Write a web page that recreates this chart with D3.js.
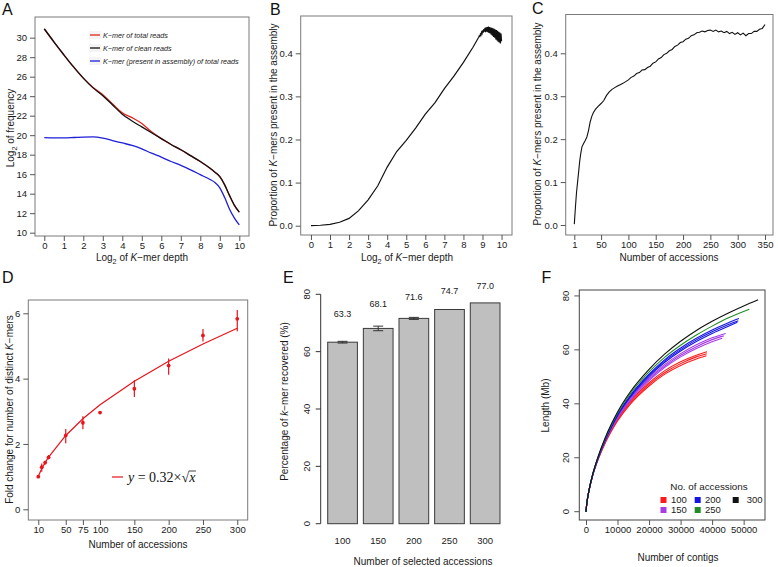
<!DOCTYPE html>
<html>
<head>
<meta charset="utf-8">
<script src="https://cdn.jsdelivr.net/npm/d3@7"></script>
<style>
  body { margin: 0; background: #fff; }
  svg { display: block; font-family: "Liberation Sans", Arial, sans-serif; }
</style>
</head>
<body>
<script>
// ---- A: log2 frequency vs log2 depth
const depthA = [0, 0.5, 1, 1.5, 2, 2.5, 3, 3.5, 4, 4.5, 5, 5.5, 6, 6.5, 7, 7.5, 8, 8.5, 8.75, 9, 9.25, 9.5, 9.75, 10];
const freqTotal = [30.9, 29.55, 28.25, 27.0, 25.85, 24.9, 24.15, 23.2, 22.3, 21.8, 21.2, 20.35, 19.65, 19.05, 18.5, 17.9, 17.3, 16.6, 16.2, 15.75, 14.9, 13.8, 12.8, 12.1];
const freqClean = [30.9, 29.55, 28.25, 27.0, 25.85, 24.85, 24.05, 23.1, 22.15, 21.45, 20.85, 20.25, 19.65, 19.05, 18.5, 17.9, 17.3, 16.6, 16.2, 15.75, 14.9, 13.8, 12.8, 12.1];
const freqAssembly = [19.75, 19.73, 19.73, 19.76, 19.8, 19.82, 19.7, 19.45, 19.2, 18.95, 18.6, 18.15, 17.75, 17.3, 16.9, 16.45, 15.95, 15.45, 15.15, 14.6, 13.6, 12.4, 11.5, 10.8];
const legendA = ['of total reads', 'of clean reads', '(present in assembly) of total reads'];

// ---- B: proportion present vs log2 depth
const depthB = [0, 0.5, 1, 1.5, 2, 2.5, 3, 3.5, 4, 4.5, 5, 5.5, 6, 6.5, 7, 7.5, 8, 8.5,
  8.8, 8.83, 8.86, 8.89, 8.92, 8.95, 8.98, 9.01, 9.04, 9.07, 9.1, 9.13, 9.16, 9.19, 9.22, 9.25, 9.28, 9.31, 9.34, 9.37,
  9.4, 9.43, 9.46, 9.49, 9.52, 9.55, 9.58, 9.61, 9.64, 9.67, 9.7, 9.73, 9.76, 9.79, 9.82, 9.85, 9.88, 9.91, 9.94, 9.97, 10];
const propB = [0, 0.001, 0.003, 0.008, 0.017, 0.035, 0.06, 0.092, 0.136, 0.172, 0.198, 0.227, 0.259, 0.285, 0.318, 0.347, 0.379, 0.414,
  0.437, 0.44, 0.439, 0.444, 0.442, 0.449, 0.446, 0.453, 0.448, 0.456, 0.45, 0.459, 0.449, 0.46, 0.45, 0.461, 0.449, 0.462, 0.447, 0.461,
  0.446, 0.46, 0.443, 0.459, 0.441, 0.458, 0.438, 0.457, 0.436, 0.455, 0.432, 0.454, 0.43, 0.452, 0.427, 0.45, 0.425, 0.448, 0.423, 0.446, 0.428];

// ---- C: proportion present vs number of accessions
const accC = [1, 3, 5, 7, 9, 11, 13, 15, 18, 21, 24, 27, 30, 33, 36, 40, 45, 50, 55, 60, 65, 70, 75, 80, 85, 90, 95, 100,
  105, 110, 115, 120, 125, 130, 135, 140, 145, 150, 155, 160, 165, 170, 175, 180, 185, 190, 195, 200, 205, 210, 215, 220,
  225, 230, 235, 240, 245, 250, 255, 260, 265, 270, 275, 280, 285, 290, 295, 300, 305, 310, 315, 320, 325, 330, 335, 340, 345, 350];
const propC = [0.002, 0.04, 0.075, 0.1, 0.125, 0.15, 0.168, 0.182, 0.19, 0.197, 0.205, 0.22, 0.24, 0.253, 0.262, 0.27, 0.277, 0.283, 0.29, 0.302, 0.31, 0.316, 0.32, 0.324, 0.327, 0.33, 0.334, 0.338,
  0.344, 0.347, 0.353, 0.355, 0.361, 0.362, 0.367, 0.37, 0.377, 0.38, 0.387, 0.39, 0.397, 0.4, 0.406, 0.409, 0.416, 0.419, 0.425, 0.427, 0.433, 0.435, 0.441, 0.443,
  0.448, 0.449, 0.452, 0.45, 0.453, 0.454, 0.451, 0.454, 0.45, 0.452, 0.448, 0.451, 0.446, 0.449, 0.444, 0.448, 0.443, 0.447, 0.441, 0.446, 0.446, 0.451, 0.451, 0.456, 0.458, 0.467];

// ---- D: fold change of distinct K-mers
const accD = [10, 15, 20, 25, 50, 75, 100, 150, 200, 250, 300];
const foldMean = [1.0, 1.29, 1.43, 1.59, 2.26, 2.65, 2.96, 3.69, 4.4, 5.32, 5.83];
const foldLow = [0.98, 1.15, 1.37, 1.53, 2.02, 2.45, 2.92, 3.44, 4.12, 5.14, 5.45];
const foldHigh = [1.02, 1.4, 1.49, 1.66, 2.46, 2.85, 3.0, 3.95, 4.62, 5.52, 6.1];
const foldFit = [1.01, 1.24, 1.43, 1.6, 2.26, 2.77, 3.2, 3.92, 4.53, 5.06, 5.54];
const ticksD = [10, 50, 75, 100, 150, 200, 250, 300];

// ---- E: percentage of k-mer recovered
const selected = ['100', '150', '200', '250', '300'];
const recovered = [63.3, 68.1, 71.6, 74.7, 77.0];
const recoveredSd = [0.3, 0.8, 0.35, 0, 0];

// ---- F: cumulative length vs number of contigs (replicates per group)
const groupsF = ['100', '150', '200', '250', '300'];
const colorsF = ['#ff1a1a', '#a63de6', '#1414e6', '#238b23', '#111111'];
const curves100 = [
  [[0,0],[250,3],[500,5],[1000,8.1],[2000,13],[4000,20.2],[6000,25.8],[8000,30.4],[10000,34.4],[14000,40.8],[20000,47.8],[25000,52.3],[30000,55.6],[35000,58],[38400,59.3]],
  [[0,0],[250,3],[500,5],[1000,8],[2000,12.9],[4000,20],[6000,25.5],[8000,30],[10000,34],[14000,40.3],[20000,47.2],[25000,51.6],[30000,54.9],[35000,57.4],[38300,58.6]],
  [[0,0],[250,3],[500,5],[1000,8],[2000,12.8],[4000,19.8],[6000,25.2],[8000,29.7],[10000,33.6],[14000,39.8],[20000,46.6],[25000,51],[30000,54.2],[35000,56.6],[38200,57.8]]
];
const curves150 = [
  [[0,0],[250,3],[500,5],[1000,8.2],[2000,13.1],[4000,20.4],[6000,26.2],[8000,31],[10000,35.2],[14000,42],[20000,49.6],[25000,54.6],[30000,58.6],[35000,61.9],[40000,64.5],[44300,66.1]],
  [[0,0],[250,3],[500,5],[1000,8.1],[2000,13],[4000,20.3],[6000,26],[8000,30.7],[10000,34.9],[14000,41.6],[20000,49.1],[25000,54],[30000,58],[35000,61.2],[40000,63.8],[43700,65.2]],
  [[0,0],[250,3],[500,5],[1000,8.1],[2000,13],[4000,20.2],[6000,25.9],[8000,30.5],[10000,34.6],[14000,41.2],[20000,48.6],[25000,53.5],[30000,57.4],[35000,60.5],[40000,63],[43200,64.3]]
];
const curves200 = [
  [[0,0],[250,3],[500,5],[1000,8.2],[2000,13.2],[4000,20.6],[6000,26.6],[8000,31.6],[10000,36],[14000,43],[20000,51],[25000,56.4],[30000,60.7],[35000,64.3],[40000,67.4],[45000,70],[48500,71.6]],
  [[0,0],[250,3],[500,5],[1000,8.2],[2000,13.2],[4000,20.5],[6000,26.5],[8000,31.4],[10000,35.8],[14000,42.7],[20000,50.6],[25000,55.9],[30000,60.1],[35000,63.7],[40000,66.7],[45000,69.3],[48300,70.8]],
  [[0,0],[250,3],[500,5],[1000,8.2],[2000,13.1],[4000,20.4],[6000,26.3],[8000,31.2],[10000,35.6],[14000,42.4],[20000,50.2],[25000,55.4],[30000,59.6],[35000,63.1],[40000,66.1],[45000,68.7],[48000,70.2]]
];
const curves250 = [
  [[0,0],[250,3],[500,5],[1000,8.3],[2000,13.3],[4000,20.8],[6000,26.9],[8000,32],[10000,36.5],[14000,43.7],[20000,51.8],[25000,57.3],[30000,61.7],[35000,65.5],[40000,68.8],[45000,71.8],[51800,75.1]]
];
const curves300 = [
  [[0,0],[250,3],[500,5],[1000,8.3],[2000,13.4],[4000,21],[6000,27.2],[8000,32.4],[10000,37],[14000,44.4],[20000,52.8],[25000,58.5],[30000,63.2],[35000,67.2],[40000,70.6],[45000,73.6],[50000,76.3],[54600,78.6]]
];
const curvesF = [curves100, curves150, curves200, curves250, curves300];

// ---------------------------------------------------------------
const tickCol = '#555', frameCol = '#7a7a7a', txtCol = '#1a1a1a';
const tickFs = 9.5, titleFs = 10;

const svg = d3.select('body').append('svg')
  .attr('width', 778)
  .attr('height', 567);
svg.append('rect').attr('width', 778).attr('height', 567).attr('fill', '#fff');

function rich(sel, parts, size) {
  let shift = 0;
  parts.forEach(p => {
    const s = p.sub ? size * 0.3 : 0;
    const t = sel.append('tspan').text(p.t).attr('dy', s - shift);
    shift = s;
    if (p.i) t.attr('font-style', 'italic');
    if (p.sub) t.attr('font-size', size * 0.72);
  });
}

function frame(b, col) {
  svg.append('rect')
    .attr('x', b.l).attr('y', b.t)
    .attr('width', b.r - b.l).attr('height', b.b - b.t)
    .attr('fill', 'none').attr('stroke', col || frameCol);
}

function styleAxis(a) {
  a.attr('font-family', null).attr('font-size', null);
  a.select('.domain').remove();
  a.selectAll('line').attr('stroke', tickCol);
  a.selectAll('text').attr('font-size', tickFs).attr('fill', txtCol);
}

function xAxis(x, b, ticks, fmt) {
  const a = svg.append('g').attr('transform', `translate(0,${b.b})`)
    .call(d3.axisBottom(x).tickValues(ticks).tickSize(5).tickPadding(1).tickFormat(fmt || d3.format('')));
  styleAxis(a);
}

function yAxis(y, b, ticks, fmt) {
  const a = svg.append('g').attr('transform', `translate(${b.l},0)`)
    .call(d3.axisLeft(y).tickValues(ticks).tickSize(5).tickPadding(3).tickFormat(fmt || d3.format('')));
  styleAxis(a);
}

function xTitle(parts, cx, baseY) {
  const t = svg.append('text').attr('x', cx).attr('y', baseY)
    .attr('text-anchor', 'middle').attr('font-size', titleFs).attr('fill', txtCol);
  rich(t, parts, titleFs);
}

function yTitle(parts, baseX, cy) {
  const t = svg.append('text')
    .attr('transform', `translate(${baseX},${cy}) rotate(-90)`)
    .attr('text-anchor', 'middle').attr('font-size', titleFs).attr('fill', txtCol);
  rich(t, parts, titleFs);
}

function panelLabel(s, x, y) {
  svg.append('text').attr('x', x).attr('y', y).attr('font-size', 16).attr('fill', '#111').text(s);
}

const kmerDepth = [{t: 'Log'}, {t: '2', sub: 1}, {t: ' of '}, {t: 'K', i: 1}, {t: '−mer depth'}];
const propTitle = [{t: 'Proportion of '}, {t: 'K', i: 1}, {t: '−mers present in the assembly'}];

// ================= A =================
{
  const b = {l: 35, r: 249, t: 17, b: 236};
  const x = d3.scaleLinear().domain([-0.477, 10.497]).range([b.l, b.r]);
  const y = d3.scaleLinear().domain([9.66, 32.12]).range([b.b, b.t]);
  frame(b);
  xAxis(x, b, d3.range(0, 11));
  yAxis(y, b, d3.range(10, 31, 2));
  const line = d3.line().x((d, i) => x(depthA[i])).y(d => y(d)).curve(d3.curveMonotoneX);
  const series = [
    {v: freqTotal, c: '#e3231c'},
    {v: freqClean, c: '#111'},
    {v: freqAssembly, c: '#1f1fd8'}
  ];
  series.forEach(s => svg.append('path').attr('d', line(s.v)).attr('fill', 'none')
    .attr('stroke', s.c).attr('stroke-width', 1.3));
  const lg = svg.append('g').attr('transform', 'translate(90,35)');
  legendA.forEach((txt, i) => {
    const row = lg.append('g').attr('transform', `translate(0,${i * 13})`);
    row.append('rect').attr('x', -1).attr('y', -4).attr('width', 12).attr('height', 8).attr('fill', '#f4f4f4');
    row.append('line').attr('x1', 0).attr('x2', 10).attr('stroke', series[i].c).attr('stroke-width', 1.3);
    const t = row.append('text').attr('x', 13).attr('y', 2.6).attr('font-size', 7.2)
      .attr('font-style', 'italic').attr('fill', txtCol);
    t.append('tspan').text('K');
    t.append('tspan').text('−mer ' + txt);
  });
  xTitle(kmerDepth, 142, 260.5);
  yTitle([{t: 'Log'}, {t: '2', sub: 1}, {t: ' of frequency'}], 14, 128);
  panelLabel('A', 2, 15);
}

// ================= B =================
{
  const b = {l: 300.7, r: 512, t: 16, b: 235};
  const x = d3.scaleLinear().domain([-0.538, 10.548]).range([b.l, b.r]);
  const y = d3.scaleLinear().domain([-0.0216, 0.4865]).range([b.b, b.t]);
  frame(b);
  xAxis(x, b, d3.range(0, 11));
  yAxis(y, b, [0, 0.1, 0.2, 0.3, 0.4], d3.format('.1f'));
  const line = d3.line().x((d, i) => x(depthB[i])).y(d => y(d));
  svg.append('path').attr('d', line(propB)).attr('fill', 'none')
    .attr('stroke', '#111').attr('stroke-width', 1.2);
  xTitle(kmerDepth, 407, 260.5);
  yTitle(propTitle, 277, 125);
  panelLabel('B', 270, 15);
}

// ================= C =================
{
  const b = {l: 565.7, r: 773, t: 14.5, b: 235};
  const x = d3.scaleLinear().domain([-14.74, 364.6]).range([b.l, b.r]);
  const y = d3.scaleLinear().domain([-0.0233, 0.4904]).range([b.b, b.t]);
  frame(b);
  xAxis(x, b, [1, 50, 100, 150, 200, 250, 300, 350]);
  yAxis(y, b, [0, 0.1, 0.2, 0.3, 0.4], d3.format('.1f'));
  const line = d3.line().x((d, i) => x(accC[i])).y(d => y(d));
  svg.append('path').attr('d', line(propC)).attr('fill', 'none')
    .attr('stroke', '#111').attr('stroke-width', 1.1);
  xTitle([{t: 'Number of accessions'}], 669, 260.5);
  yTitle(propTitle, 541, 124);
  panelLabel('C', 532, 13.5);
}

// ================= D =================
{
  const b = {l: 28.3, r: 247.7, t: 300, b: 520};
  const x = d3.scaleLinear().domain([-4.57, 315.2]).range([b.l, b.r]);
  const y = d3.scaleLinear().domain([-0.3275, 6.407]).range([b.b, b.t]);
  const red = '#e8131b';
  frame(b);
  xAxis(x, b, ticksD);
  yAxis(y, b, [0, 2, 4, 6]);
  const line = d3.line().x((d, i) => x(accD[i])).y(d => y(d));
  svg.append('path').attr('d', line(foldFit)).attr('fill', 'none')
    .attr('stroke', red).attr('stroke-width', 1.2);
  svg.append('g').selectAll('line').data(accD).join('line')
    .attr('x1', d => x(d)).attr('x2', d => x(d))
    .attr('y1', (d, i) => y(foldLow[i])).attr('y2', (d, i) => y(foldHigh[i]))
    .attr('stroke', red).attr('stroke-width', 1.2);
  svg.append('g').selectAll('circle').data(accD).join('circle')
    .attr('cx', d => x(d)).attr('cy', (d, i) => y(foldMean[i])).attr('r', 1.9)
    .attr('fill', red);
  // legend
  svg.append('line').attr('x1', 112).attr('x2', 123).attr('y1', 477).attr('y2', 477)
    .attr('stroke', red).attr('stroke-width', 1.2);
  const eq = svg.append('text').attr('x', 128).attr('y', 482)
    .attr('font-family', '"Liberation Serif", "DejaVu Serif", serif').attr('font-size', 14).attr('fill', '#111');
  eq.append('tspan').attr('font-style', 'italic').text('y');
  eq.append('tspan').text(' = 0.32×√');
  eq.append('tspan').attr('font-style', 'italic').text('x');
  const node = eq.node();
  const n = node.getNumberOfChars();
  const sx = node.getStartPositionOfChar(n - 1).x;
  const ex = node.getEndPositionOfChar(n - 1).x;
  svg.append('line').attr('x1', sx - 0.5).attr('x2', ex + 0.5).attr('y1', 471).attr('y2', 471)
    .attr('stroke', '#111').attr('stroke-width', 0.8);
  xTitle([{t: 'Number of accessions'}], 138, 547.5);
  yTitle([{t: 'Fold change for number of distinct '}, {t: 'K', i: 1}, {t: '−mers'}], 12.5, 409.5);
  panelLabel('D', 2, 283);
}

// ================= E =================
{
  const axisX = 320.7;
  const x = d3.scaleBand().domain(selected).range([327.7, 500]).paddingInner(0.1667);
  const y = d3.scaleLinear().domain([0, 80]).range([523.7, 294.3]);
  // y axis (R barplot style)
  svg.append('line').attr('x1', axisX).attr('x2', axisX).attr('y1', y(0)).attr('y2', y(80)).attr('stroke', '#333');
  [0, 20, 40, 60, 80].forEach(v => {
    svg.append('line').attr('x1', axisX - 5).attr('x2', axisX).attr('y1', y(v)).attr('y2', y(v)).attr('stroke', '#333');
    svg.append('text').attr('transform', `translate(310,${y(v)}) rotate(-90)`)
      .attr('text-anchor', 'middle').attr('font-size', tickFs).attr('fill', txtCol).text(v);
  });
  svg.append('g').selectAll('rect').data(recovered).join('rect')
    .attr('x', (d, i) => x(selected[i])).attr('width', x.bandwidth())
    .attr('y', d => y(d)).attr('height', d => y(0) - y(d))
    .attr('fill', '#bfbfbf').attr('stroke', '#3a3a3a').attr('stroke-width', 1);
  recovered.forEach((v, i) => {
    const cx = x(selected[i]) + x.bandwidth() / 2;
    const sd = recoveredSd[i];
    if (sd > 0) {
      const g = svg.append('g').attr('stroke', '#333').attr('stroke-width', 1);
      g.append('line').attr('x1', cx).attr('x2', cx).attr('y1', y(v - sd)).attr('y2', y(v + sd));
      g.append('line').attr('x1', cx - 5).attr('x2', cx + 5).attr('y1', y(v - sd)).attr('y2', y(v - sd));
      g.append('line').attr('x1', cx - 5).attr('x2', cx + 5).attr('y1', y(v + sd)).attr('y2', y(v + sd));
    }
    svg.append('text').attr('x', cx).attr('y', y(v * 0.7 + 29) + 3.5)
      .attr('text-anchor', 'middle').attr('font-size', 9).attr('fill', txtCol).text(v.toFixed(1));
    svg.append('text').attr('x', cx).attr('y', 543.5)
      .attr('text-anchor', 'middle').attr('font-size', tickFs).attr('fill', txtCol).text(selected[i]);
  });
  xTitle([{t: 'Number of selected accessions'}], 423, 565);
  yTitle([{t: 'Percentage of '}, {t: 'k', i: 1}, {t: '−mer recovered (%)'}], 287.5, 401.5);
  panelLabel('E', 283, 283);
}

// ================= F =================
{
  const b = {l: 579.3, r: 765, t: 290, b: 520};
  const x = d3.scaleLinear().domain([-2125, 56770]).range([b.l, b.r]);
  const y = d3.scaleLinear().domain([-3.08, 82.2]).range([b.b, b.t]);
  frame(b, '#444');
  xAxis(x, b, d3.range(0, 50001, 10000));
  // rotated y tick labels
  const ya = svg.append('g');
  [0, 20, 40, 60, 80].forEach(v => {
    ya.append('line').attr('x1', b.l - 5).attr('x2', b.l).attr('y1', y(v)).attr('y2', y(v)).attr('stroke', tickCol);
    ya.append('text').attr('transform', `translate(568.5,${y(v)}) rotate(-90)`)
      .attr('text-anchor', 'middle').attr('font-size', tickFs).attr('fill', txtCol).text(v);
  });
  const line = d3.line().x(d => x(d[0])).y(d => y(d[1])).curve(d3.curveMonotoneX);
  curvesF.forEach((reps, gi) => {
    reps.forEach(r => svg.append('path').attr('d', line(r)).attr('fill', 'none')
      .attr('stroke', colorsF[gi]).attr('stroke-width', 1.1));
  });
  // legend
  svg.append('text').attr('x', 709).attr('y', 490).attr('text-anchor', 'middle')
    .attr('font-size', 9.8).attr('fill', txtCol).text('No. of accessions');
  const colSq = [663.5, 697.7, 735.7], colTx = [671, 705, 746.7];
  groupsF.forEach((g, i) => {
    const c = Math.floor(i / 2), r = i % 2;
    const cy = 500 + r * 10;
    svg.append('rect').attr('x', colSq[c] - 3).attr('y', cy - 3).attr('width', 6).attr('height', 6)
      .attr('fill', colorsF[i]);
    svg.append('text').attr('x', colTx[c]).attr('y', cy + 3.3).attr('font-size', 9.5)
      .attr('fill', txtCol).text(g);
  });
  xTitle([{t: 'Number of contigs'}], 678, 561);
  yTitle([{t: 'Length (Mb)'}], 548.5, 405.5);
  panelLabel('F', 541.5, 283);
}
</script>
</body>
</html>
